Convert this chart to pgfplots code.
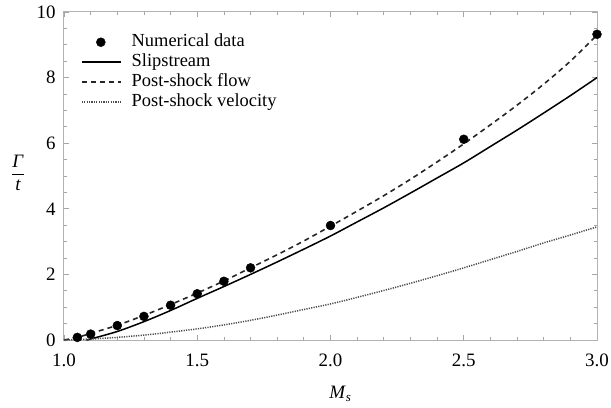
\documentclass[border=0pt]{standalone}
\usepackage{pgfplots}
\pgfplotsset{compat=1.18}
\usepackage{fontspec}
\setmainfont{Liberation Serif}
\pgfplotsset{
  legline/.style={legend image code/.code={\draw[##1] (0bp,0bp) -- (39bp,0bp); \path (48bp,0bp);}},
  legdot/.style={legend image code/.code={\draw[##1] plot coordinates {(19bp,0bp)}; \path (0bp,0bp) (48bp,0bp);}},
}
\begin{document}
\fontsize{19}{22}\selectfont
\begin{tikzpicture}
\useasboundingbox (-64bp,-68bp) rectangle (547bp,340bp);
\begin{axis}[
  at={(0,0)}, anchor=south west,
  scale only axis, width=533bp, height=328bp,
  xmin=1, xmax=3, ymin=0, ymax=10,
  xtick={1,1.5,2,2.5,3}, ytick={0,2,4,6,8,10},
  xticklabels={1.0,1.5,2.0,2.5,3.0},
  yticklabels={0,2,4,6,8,10},
  minor x tick num=4, minor y tick num=3,
  major tick length=5bp, minor tick length=3bp,
  tick style={gray!70, line width=0.8bp},
  axis line style={gray!60, line width=1bp},
  ticklabel style={font=\fontsize{19}{22}\selectfont},
  xticklabel style={yshift=-7bp},
  yticklabel style={xshift=-2bp},
  tick align=inside,
  legend style={at={(rel axis cs:0.026,0.945)}, anchor=north west, draw=none, fill=none,
    font=\fontsize{18.5}{20}\selectfont,
    nodes={inner sep=1bp, text height=13bp, text depth=5bp},
    row sep=0bp},
  legend cell align=left,
  xlabel={\textit{M}\raisebox{-0.3ex}{\fontsize{13}{14}\selectfont\textit{s}}},
  xlabel style={at={(rel axis cs:0.518,-0.165)}, anchor=center, font=\fontsize{19}{22}\selectfont},
  ylabel={$\displaystyle\frac{\hbox{\textit{Γ}}}{\hbox{\textit{t}}}$},
  ylabel style={at={(rel axis cs:-0.086,0.51)}, anchor=center, rotate=-90, font=\fontsize{19}{22}\selectfont},
]
\addplot[only marks, mark=*, mark size=4.5bp, black, legdot]
  coordinates {(1.05,0.08) (1.1,0.18) (1.2,0.44) (1.3,0.72) (1.4,1.06) (1.5,1.41) (1.6,1.79) (1.7,2.2) (2.0,3.49) (2.5,6.12) (3.0,9.32)};
\addlegendentry{Numerical data}
\addplot[black, line width=1.5bp, smooth, legline]
  coordinates {(1.09,0) (1.1,0.03) (1.2,0.26) (1.3,0.56) (1.4,0.9) (1.5,1.27) (1.6,1.63) (1.7,2.0) (1.8,2.38) (1.9,2.77) (2.0,3.17) (2.1,3.6) (2.2,4.03) (2.3,4.48) (2.4,4.94) (2.5,5.4) (2.6,5.9) (2.7,6.4) (2.8,6.92) (2.9,7.45) (3.0,8.0)};
\addlegendentry{Slipstream}
\addplot[black!85, line width=1.6bp, dash pattern=on 5bp off 4bp, smooth, legline]
  coordinates {(1.0,0) (1.05,0.08) (1.1,0.2) (1.2,0.45) (1.3,0.75) (1.4,1.08) (1.5,1.43) (1.6,1.8) (1.7,2.2) (1.8,2.6) (1.9,3.02) (2.0,3.47) (2.1,3.93) (2.2,4.4) (2.3,4.9) (2.4,5.43) (2.5,5.98) (2.6,6.56) (2.7,7.16) (2.8,7.8) (2.9,8.5) (3.0,9.3)};
\addlegendentry{Post-shock flow}
\addplot[black!70, line width=1.5bp, dash pattern=on 1.2bp off 1.2bp, smooth, legline]
  coordinates {(1.0,0) (1.1,0.03) (1.2,0.08) (1.3,0.15) (1.4,0.24) (1.5,0.34) (1.6,0.46) (1.7,0.6) (1.8,0.76) (1.9,0.93) (2.0,1.1) (2.1,1.3) (2.2,1.51) (2.3,1.73) (2.4,1.96) (2.5,2.2) (2.6,2.45) (2.7,2.7) (2.8,2.96) (2.9,3.2) (3.0,3.45)};
\addlegendentry{Post-shock velocity}
\end{axis}
\end{tikzpicture}
\end{document}
